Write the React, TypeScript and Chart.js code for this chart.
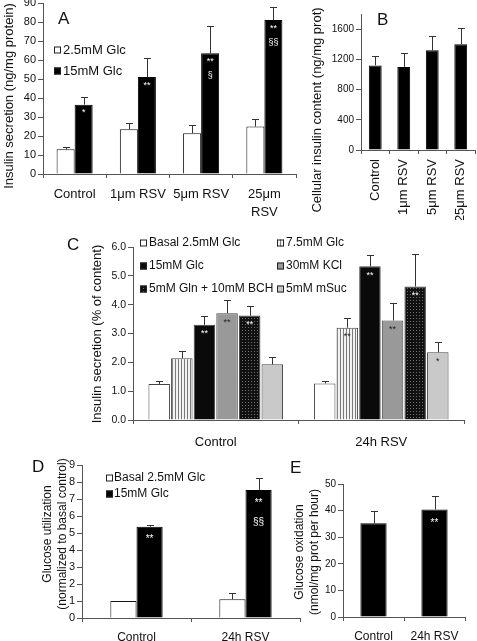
import React, { useEffect, useRef } from 'react';
import { Chart, registerables } from 'chart.js';

Chart.register(...registerables);

const FONT = "'Liberation Sans', Arial, Helvetica, sans-serif";
const AXIS = '#555';
const TEXT = '#111';

// ---------- Panel A ----------
const aCategories = ['Control', '1μm RSV', '5μm RSV', ['25μm', 'RSV']];
const aSeries = ['2.5mM Glc', '15mM Glc'];
const aLow = [13, 23.5, 21.5, 25];
const aLowErr = [14, 27, 26, 29];
const aHigh = [36.5, 51, 63.5, 81];
const aHighErr = [40.5, 61, 78, 88];
const aHighMarks = [['*'], ['**'], ['**', '§'], ['**', '§§']];
const aYTicks = [0, 10, 20, 30, 40, 50, 60, 70, 80, 90];

// ---------- Panel B ----------
const bCategories = ['Control', '1μm RSV', '5μm RSV', '25μm RSV'];
const bValues = [1120, 1100, 1320, 1400];
const bErr = [1250, 1290, 1505, 1615];
const bYTicks = [0, 400, 800, 1200, 1600];

// ---------- Panel C ----------
const cCategories = ['Control', '24h RSV'];
const cSeries = ['Basal 2.5mM Glc', '7.5mM Glc', '15mM Glc', '30mM KCl', '5mM Gln + 10mM BCH', '5mM mSuc'];
const cBasal = [1.25, 1.27];
const cBasalErr = [1.35, 1.35];
const cGlc75 = [2.14, 3.2];
const cGlc75Err = [2.4, 3.55];
const cGlc15 = [3.3, 5.33];
const cGlc15Err = [3.6, 5.72];
const cKCl = [3.7, 3.45];
const cKClErr = [4.15, 4.05];
const cGln = [3.62, 4.63];
const cGlnErr = [3.95, 5.75];
const cSuc = [1.93, 2.35];
const cSucErr = [2.2, 2.7];
const cGlc75Marks = [[], ['**']];
const cGlc15Marks = [['**'], ['**']];
const cKClMarks = [['**'], ['**']];
const cGlnMarks = [['**'], ['**']];
const cSucMarks = [[], ['*']];
const cYTicks = [0, 1, 2, 3, 4, 5, 6];

// ---------- Panel D ----------
const dCategories = ['Control', '24h RSV'];
const dSeries = ['Basal 2.5mM Glc', '15mM Glc'];
const dBasal = [1.0, 1.1];
const dBasalErr = [null, 1.45];
const dGlc15 = [5.37, 7.53];
const dGlc15Err = [5.5, 8.22];
const dGlc15Marks = [['**'], ['**', '§§']];
const dYTicks = [0, 1, 2, 3, 4, 5, 6, 7, 8, 9];

// ---------- Panel E ----------
const eCategories = ['Control', '24h RSV'];
const eValues = [35.2, 40.4];
const eErr = [39.8, 45.5];
const eMarks = [[], ['**']];
const eYTicks = [0, 10, 20, 30, 40, 50];

type Rect = { left: number; top: number; width: number; height: number };
type Area = { l: number; t: number; r: number; b: number };

const extras = {
  id: 'extras',
  afterDatasetsDraw(chart: any) {
    const ctx = chart.ctx;
    const o = chart.options.plugins.extras || {};
    const ys = chart.scales.y;
    chart.data.datasets.forEach((ds: any, di: number) => {
      const meta = chart.getDatasetMeta(di);
      meta.data.forEach((el: any, i: number) => {
        const e = ds.errorTop ? ds.errorTop[i] : null;
        if (e != null && e > ds.data[i]) {
          const x = Math.round(el.x) + 0.5;
          const yt = Math.round(ys.getPixelForValue(e)) + 0.5;
          ctx.save();
          ctx.strokeStyle = '#333';
          ctx.lineWidth = 1;
          ctx.beginPath();
          ctx.moveTo(x, el.y);
          ctx.lineTo(x, yt);
          ctx.moveTo(x - o.cap, yt);
          ctx.lineTo(x + o.cap, yt);
          ctx.stroke();
          ctx.restore();
        }
        const m = ds.marks ? ds.marks[i] : null;
        if (m && m.length) {
          ctx.save();
          ctx.fillStyle = ds.markColor || '#fff';
          ctx.font = `${o.markSize}px ${FONT}`;
          ctx.textAlign = 'center';
          ctx.textBaseline = 'middle';
          m.forEach((t: string, k: number) => ctx.fillText(t, el.x, el.y + o.markDy + k * o.markGap));
          ctx.restore();
        }
      });
    });
  },
  afterDraw(chart: any) {
    const ctx = chart.ctx;
    const o = chart.options.plugins.extras || {};
    const lg = o.legend;
    if (lg) {
      lg.items.forEach((it: any) => {
        const ds = chart.data.datasets[it.ds];
        ctx.save();
        ctx.fillStyle = ds.backgroundColor;
        ctx.fillRect(it.x, it.y - lg.box / 2, lg.box, lg.box);
        ctx.strokeStyle = '#222';
        ctx.lineWidth = 1;
        ctx.strokeRect(it.x + 0.5, it.y - lg.box / 2 + 0.5, lg.box - 1, lg.box - 1);
        ctx.fillStyle = TEXT;
        ctx.font = `${lg.size}px ${FONT}`;
        ctx.textAlign = 'left';
        ctx.textBaseline = 'middle';
        ctx.fillText(ds.label, it.x + lg.box + lg.gap, it.y);
        ctx.restore();
      });
    }
    (o.texts || []).forEach((t: any) => {
      ctx.save();
      ctx.font = `${t.size}px ${FONT}`;
      ctx.fillStyle = TEXT;
      ctx.textAlign = t.align || 'center';
      ctx.textBaseline = 'middle';
      ctx.translate(t.x, t.y);
      if (t.rot) ctx.rotate(-Math.PI / 2);
      const lines = Array.isArray(t.text) ? t.text : [t.text];
      lines.forEach((ln: string, k: number) => ctx.fillText(ln, 0, k * (t.lh || t.size * 1.2)));
      ctx.restore();
    });
  },
};

function build(p: any) {
  const rect: Rect = p.rect;
  const area: Area = p.area;
  const conv = (x: number, y: number) => ({ x: x - rect.left, y: y - rect.top });
  const texts = (p.texts || []).map((t: any) => ({ ...t, ...conv(t.x, t.y) }));
  const legend = p.legend
    ? { ...p.legend, items: p.legend.items.map((it: any) => ({ ...it, ...conv(it.x, it.y) })) }
    : null;
  return {
    type: 'bar',
    data: { labels: p.labels, datasets: p.datasets },
    plugins: [extras],
    options: {
      responsive: false,
      animation: false,
      devicePixelRatio: 1,
      layout: {
        padding: {
          left: 0,
          top: area.t - rect.top,
          right: rect.left + rect.width - area.r,
          bottom: rect.top + rect.height - area.b - p.xH,
        },
      },
      datasets: { bar: { categoryPercentage: p.cat, barPercentage: p.bar } },
      plugins: {
        legend: { display: false },
        tooltip: { enabled: false },
        extras: { cap: 3.5, markSize: p.markSize, markDy: p.markDy, markGap: p.markGap, texts, legend },
      },
      scales: {
        x: {
          offset: true,
          grid: { display: true, drawOnChartArea: false, drawTicks: true, tickLength: 4, offset: true, color: AXIS },
          border: { display: true, color: AXIS, width: 1 },
          ticks: {
            autoSkip: false,
            maxRotation: p.xRot || 0,
            minRotation: p.xRot || 0,
            padding: p.xPad,
            color: TEXT,
            font: { family: FONT, size: p.xFont, lineHeight: p.xLH || 1.2 },
          },
          afterFit: (s: any) => {
            s.height = p.xH;
          },
        },
        y: {
          min: 0,
          max: p.yMax,
          grid: { drawOnChartArea: false, drawTicks: true, tickLength: 5, color: AXIS },
          border: { display: true, color: AXIS, width: 1 },
          ticks: {
            padding: 2,
            color: TEXT,
            font: { family: FONT, size: p.yFont },
            callback: (v: number) => (p.yFmt ? p.yFmt(v) : String(v)),
          },
          afterBuildTicks: (s: any) => {
            s.ticks = p.yTicks.map((v: number) => ({ value: v }));
          },
          afterFit: (s: any) => {
            s.width = area.l - rect.left;
          },
        },
      },
    },
  };
}

function makePattern(ctx: CanvasRenderingContext2D, w: number, h: number, draw: (g: CanvasRenderingContext2D) => void) {
  const c = document.createElement('canvas');
  c.width = w;
  c.height = h;
  const g = c.getContext('2d')!;
  draw(g);
  return ctx.createPattern(c, 'repeat');
}

const rectA: Rect = { left: 0, top: -7, width: 320, height: 240 };
const rectB: Rect = { left: 300, top: -10, width: 190, height: 250 };
const rectC: Rect = { left: 55, top: 230, width: 425, height: 230 };
const rectD: Rect = { left: 0, top: 450, width: 330, height: 191 };
const rectE: Rect = { left: 285, top: 450, width: 200, height: 191 };

function makeA() {
  return build({
    rect: rectA,
    area: { l: 43, t: 3, r: 296, b: 174 },
    xH: 54,
    labels: aCategories,
    datasets: [
      { label: aSeries[0], data: aLow, errorTop: aLowErr, backgroundColor: '#fff', borderColor: '#111', borderWidth: 1 },
      { label: aSeries[1], data: aHigh, errorTop: aHighErr, marks: aHighMarks, markColor: '#fff', backgroundColor: '#000', borderColor: '#000', borderWidth: 1 },
    ],
    cat: 0.57,
    bar: 1,
    yMax: 90,
    yTicks: aYTicks,
    yFont: 11,
    xFont: 13,
    xPad: 8,
    xLH: 1.35,
    markSize: 9,
    markDy: 8,
    markGap: 14,
    legend: { box: 7, gap: 2, size: 13, items: [{ ds: 0, x: 54, y: 50 }, { ds: 1, x: 54, y: 71 }] },
    texts: [
      { text: 'A', x: 58, y: 19, size: 17, align: 'left' },
      { text: 'Insulin secretion (ng/mg protein)', x: 9, y: 96, size: 13, rot: true },
    ],
  });
}

function makeB() {
  return build({
    rect: rectB,
    area: { l: 361, t: 14, r: 475, b: 150 },
    xH: 70,
    labels: bCategories,
    datasets: [{ label: 'Insulin content', data: bValues, errorTop: bErr, backgroundColor: '#000', borderColor: '#000', borderWidth: 1 }],
    cat: 0.45,
    bar: 1,
    yMax: 1800,
    yTicks: bYTicks,
    yFont: 10,
    xFont: 13,
    xPad: 5,
    xRot: 90,
    markSize: 9,
    markDy: 8,
    markGap: 14,
    texts: [
      { text: 'B', x: 377, y: 20, size: 17, align: 'left' },
      { text: 'Cellular insulin content (ng/mg prot)', x: 317, y: 110, size: 13, rot: true },
    ],
  });
}

function makeC(ctx: CanvasRenderingContext2D) {
  const stripes = makePattern(ctx, 3, 1, (g) => {
    g.fillStyle = '#f2f2f2';
    g.fillRect(0, 0, 3, 1);
    g.fillStyle = '#7a7a7a';
    g.fillRect(0, 0, 1, 1);
  });
  const dots = makePattern(ctx, 3, 3, (g) => {
    g.fillStyle = '#111';
    g.fillRect(0, 0, 3, 3);
    g.fillStyle = '#6e6e6e';
    g.fillRect(1, 1, 1, 1);
  });
  const common = { borderColor: '#444', borderWidth: 1 };
  return build({
    rect: rectC,
    area: { l: 133, t: 247, r: 464, b: 420 },
    xH: 40,
    labels: cCategories,
    datasets: [
      { label: cSeries[0], data: cBasal, errorTop: cBasalErr, backgroundColor: '#fff', ...common },
      { label: cSeries[1], data: cGlc75, errorTop: cGlc75Err, marks: cGlc75Marks, markColor: '#222', backgroundColor: stripes, ...common },
      { label: cSeries[2], data: cGlc15, errorTop: cGlc15Err, marks: cGlc15Marks, markColor: '#fff', backgroundColor: '#0a0a0a', ...common },
      { label: cSeries[3], data: cKCl, errorTop: cKClErr, marks: cKClMarks, markColor: '#222', backgroundColor: '#999', ...common },
      { label: cSeries[4], data: cGln, errorTop: cGlnErr, marks: cGlnMarks, markColor: '#fff', backgroundColor: dots, ...common },
      { label: cSeries[5], data: cSuc, errorTop: cSucErr, marks: cSucMarks, markColor: '#222', backgroundColor: '#c9c9c9', ...common },
    ],
    cat: 0.82,
    bar: 0.95,
    yMax: 6,
    yTicks: cYTicks,
    yFmt: (v: number) => v.toFixed(1),
    yFont: 10.5,
    xFont: 13,
    xPad: 11,
    markSize: 9,
    markDy: 9,
    markGap: 14,
    legend: {
      box: 7,
      gap: 2,
      size: 12,
      items: [
        { ds: 0, x: 140, y: 243 },
        { ds: 1, x: 277, y: 243 },
        { ds: 2, x: 140, y: 266 },
        { ds: 3, x: 277, y: 266 },
        { ds: 4, x: 140, y: 289 },
        { ds: 5, x: 277, y: 289 },
      ],
    },
    texts: [
      { text: 'C', x: 67, y: 245, size: 17, align: 'left' },
      { text: 'Insulin secretion (% of content)', x: 97, y: 334, size: 13, rot: true },
    ],
  });
}

function makeD() {
  return build({
    rect: rectD,
    area: { l: 82, t: 465, r: 300, b: 618 },
    xH: 23,
    labels: dCategories,
    datasets: [
      { label: dSeries[0], data: dBasal, errorTop: dBasalErr, backgroundColor: '#fff', borderColor: '#111', borderWidth: 1 },
      { label: dSeries[1], data: dGlc15, errorTop: dGlc15Err, marks: dGlc15Marks, markColor: '#fff', backgroundColor: '#000', borderColor: '#000', borderWidth: 1 },
    ],
    cat: 0.48,
    bar: 1,
    yMax: 9,
    yTicks: dYTicks,
    yFont: 11,
    xFont: 12,
    xPad: 8,
    markSize: 10,
    markDy: 13,
    markGap: 19,
    legend: { box: 7, gap: 1, size: 12, items: [{ ds: 0, x: 106, y: 478 }, { ds: 1, x: 106, y: 494 }] },
    texts: [
      { text: 'D', x: 32, y: 467, size: 17, align: 'left' },
      { text: ['Glucose utilization', '(normalized to basal control)'], x: 48, y: 534, size: 12, lh: 15, rot: true },
    ],
  });
}

function makeE() {
  return build({
    rect: rectE,
    area: { l: 343, t: 484, r: 465, b: 617 },
    xH: 24,
    labels: eCategories,
    datasets: [{ label: 'Glucose oxidation', data: eValues, errorTop: eErr, marks: eMarks, markColor: '#fff', backgroundColor: '#000', borderColor: '#000', borderWidth: 1 }],
    cat: 0.43,
    bar: 1,
    yMax: 50,
    yTicks: eYTicks,
    yFont: 10,
    xFont: 12,
    xPad: 8,
    markSize: 10,
    markDy: 14,
    markGap: 19,
    texts: [
      { text: 'E', x: 290, y: 468, size: 17, align: 'left' },
      { text: ['Glucose oxidation', '(nmol/mg prot per hour)'], x: 300, y: 552, size: 12, lh: 15, rot: true },
    ],
  });
}

function ChartBox({ rect, make }: { rect: Rect; make: (ctx: CanvasRenderingContext2D) => any }) {
  const ref = useRef<HTMLCanvasElement>(null);
  useEffect(() => {
    const cv = ref.current!;
    const chart = new Chart(cv, make(cv.getContext('2d')!));
    return () => chart.destroy();
  }, []);
  return (
    <canvas
      ref={ref}
      width={rect.width}
      height={rect.height}
      style={{ position: 'absolute', left: rect.left, top: rect.top, width: rect.width, height: rect.height }}
    />
  );
}

export default function App() {
  return (
    <div style={{ position: 'absolute', left: 0, top: 0, width: 477, height: 641, overflow: 'hidden', background: '#fff' }}>
      <ChartBox rect={rectA} make={makeA} />
      <ChartBox rect={rectB} make={makeB} />
      <ChartBox rect={rectC} make={makeC} />
      <ChartBox rect={rectD} make={makeD} />
      <ChartBox rect={rectE} make={makeE} />
    </div>
  );
}
